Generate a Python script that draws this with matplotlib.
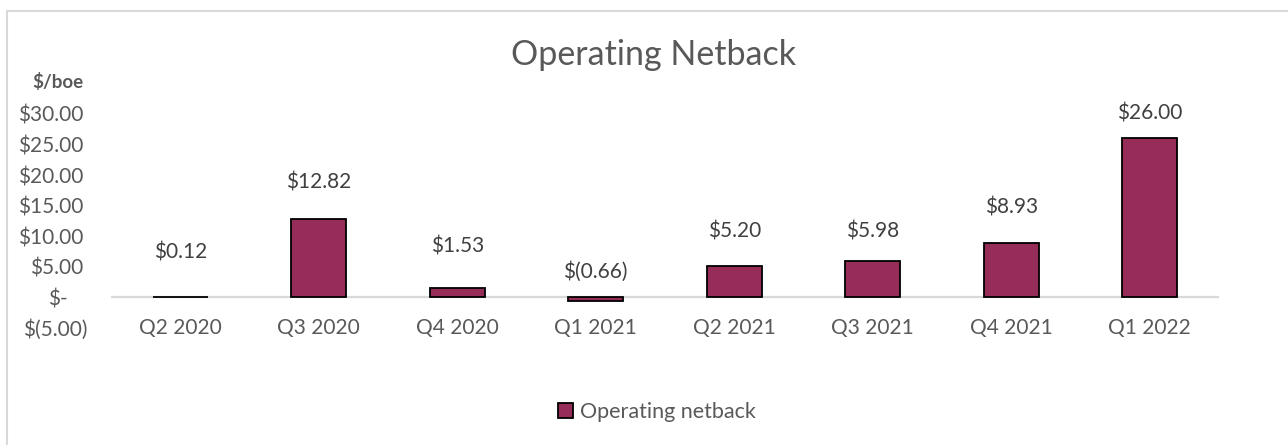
import matplotlib
matplotlib.use("Agg")
import matplotlib.pyplot as plt
from matplotlib.patches import Rectangle

plt.rcParams['font.family'] = ['Lato', 'DejaVu Sans']

quarters = ["Q2 2020", "Q3 2020", "Q4 2020", "Q1 2021", "Q2 2021", "Q3 2021", "Q4 2021", "Q1 2022"]
netback = [0.12, 12.82, 1.53, -0.66, 5.20, 5.98, 8.93, 26.00]
y_ticks = [-5, 0, 5, 10, 15, 20, 25, 30]
y_ticklabels = ["$(5.00)", "$-", "$5.00", "$10.00", "$15.00", "$20.00", "$25.00", "$30.00"]
# accounting-format right padding of each y label (pixels)
y_label_pad = [0, 20, 5, 5, 5, 5, 5, 5]
# label lift above bar top (pixels), placed by hand in the original
label_lift = [44, 37, 42, 26, 34, 29, 35, 25]

BAR = "#952D58"
TXT = "#595959"
LBL = "#404040"
W, H = 1288, 445


def money(v):
    return f"${v:.2f}" if v >= 0 else f"$({-v:.2f})"


fig = plt.figure(figsize=(W / 100, H / 100), dpi=100)
ax = fig.add_axes([111 / W, 1 - 328 / H, (1219 - 111) / W, (328 - 114) / H])

x = list(range(len(quarters)))
ax.bar(x, netback, width=0.40, color=BAR, edgecolor="black", linewidth=1.3, zorder=3,
       label="Operating netback")
ax.axhline(0, color="#D9D9D9", lw=1.6, zorder=2)

for i, v in enumerate(netback):
    ax.annotate(money(v), xy=(i, max(v, 0)), xytext=(0, label_lift[i]), textcoords="offset pixels",
                ha="center", va="center", fontsize=15, color=LBL)

ax.set_xlim(-0.5, len(quarters) - 0.5)
ax.set_ylim(-5, 30)
ax.set_yticks(y_ticks)
ax.set_yticklabels([])
for v, lab, p in zip(y_ticks, y_ticklabels, y_label_pad):
    ax.annotate(lab, xy=(0, v), xycoords=ax.get_yaxis_transform(), xytext=(-23 - p, -2),
                textcoords="offset pixels", ha="right", va="center", fontsize=15, color=TXT)
ax.set_xticks(x)
ax.set_xticklabels(quarters)
ax.tick_params(axis="y", length=0)
ax.tick_params(axis="x", length=0, pad=0, labelsize=15, labelcolor=TXT)
for t in ax.get_xticklabels():
    t.set_va("center")
for s in ax.spines.values():
    s.set_visible(False)

fig.text(654 / W, 1 - 55 / H, "Operating Netback", ha="center", va="center", fontsize=24.5, color=TXT)
fig.text(83 / W, 1 - 82 / H, "$/boe", ha="right", va="center", fontsize=13.5, fontweight="bold", color=TXT)

h, l = ax.get_legend_handles_labels()
fig.legend(h, l, loc="center", bbox_to_anchor=(657 / W, 1 - 412 / H), frameon=False, fontsize=15.5,
           handlelength=0.7, handleheight=0.7, handletextpad=0.3, labelcolor=TXT)

fig.patches.append(Rectangle((7 / W, -0.1), 1.2, (H - 11) / H + 0.1, transform=fig.transFigure,
                             fill=False, edgecolor="#D9D9D9", lw=1.5))

fig.savefig("out.png", dpi=100)
